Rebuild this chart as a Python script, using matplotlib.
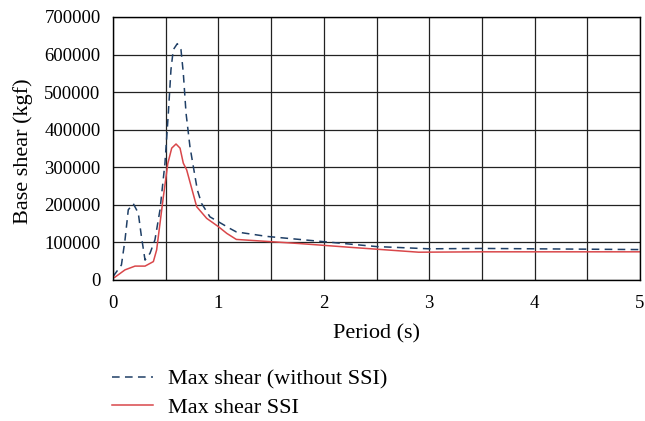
import matplotlib
matplotlib.use("Agg")
import matplotlib.pyplot as plt
import numpy as np

plt.rcParams['font.family'] = ['Liberation Serif', 'DejaVu Serif']

# Max base shear without soil-structure interaction
period_fixed = [0.0, 0.08, 0.114, 0.145, 0.193, 0.24, 0.27, 0.304, 0.351, 0.398, 0.446,
                0.493, 0.525, 0.55, 0.572, 0.61, 0.645, 0.667, 0.693, 0.73, 0.762, 0.80,
                0.84, 0.92, 1.0, 1.11, 1.17, 1.46, 2.0, 2.5, 3.0, 3.5, 4.0, 4.5, 5.0]
shear_fixed = [9000, 40000, 107000, 187000, 203000, 178000, 115000, 53000, 71000, 107000, 187000,
               311000, 444000, 560000, 613000, 629000, 613000, 551000, 444000, 355000, 302000, 240000,
               204000, 168000, 155000, 137000, 128000, 116000, 102000, 89000, 83000, 84000, 83000, 82000, 81000]

# Max base shear with soil-structure interaction
period_ssi = [0.016, 0.114, 0.209, 0.304, 0.383, 0.414, 0.446, 0.478, 0.52, 0.557, 0.598,
              0.636, 0.667, 0.699, 0.794, 0.889, 1.0, 1.08, 1.17, 1.77, 2.25, 2.9, 3.5, 4.0, 4.5, 5.0]
shear_ssi = [7000, 27000, 37000, 37000, 49000, 80000, 151000, 222000, 310000, 351000, 362000,
             351000, 311000, 293000, 195000, 164000, 142000, 124000, 108000, 97000, 87000, 74000,
             75000, 75000, 75000, 75000]

fig = plt.figure(figsize=(6.45, 4.21), dpi=100)
ax = fig.add_axes([113/645, 1 - 280/421, 527/645, 263/421])

ax.plot(period_fixed, shear_fixed, color='#1f3f66', lw=1.1, dashes=(5, 3.5),
        label='Max shear (without SSI)')
ax.plot(period_ssi, shear_ssi, color='#d9474a', lw=1.1, label='Max shear SSI')

ax.set_xlim(0, 5)
ax.set_ylim(0, 700000)
ax.set_xticks([0, 1, 2, 3, 4, 5])
ax.set_xticks(np.arange(0, 5.01, 0.5), minor=True)
ax.set_yticks(np.arange(0, 700001, 100000))
ax.grid(True, which='both', color='#222222', lw=0.9)
ax.tick_params(which='both', length=0, labelsize=13.5)
ax.tick_params(axis='y', pad=9)
ax.tick_params(axis='x', pad=10.5)
for s in ax.spines.values():
    s.set_color('black')
    s.set_linewidth(1.0)
ax.set_axisbelow(True)

ax.set_xlabel('Period (s)', fontsize=16)
ax.set_ylabel('Base shear (kgf)', fontsize=16)
ax.xaxis.set_label_coords(0.5, -0.17)
ax.yaxis.set_label_coords(-0.152, 0.49)

fig.legend(loc='upper left', bbox_to_anchor=(112/645, 1 - 369/421), frameon=False,
           fontsize=16, handlelength=1.85, labelspacing=0.36, handletextpad=0.68,
           borderpad=0, borderaxespad=0)

fig.savefig('out.png', dpi=100)
